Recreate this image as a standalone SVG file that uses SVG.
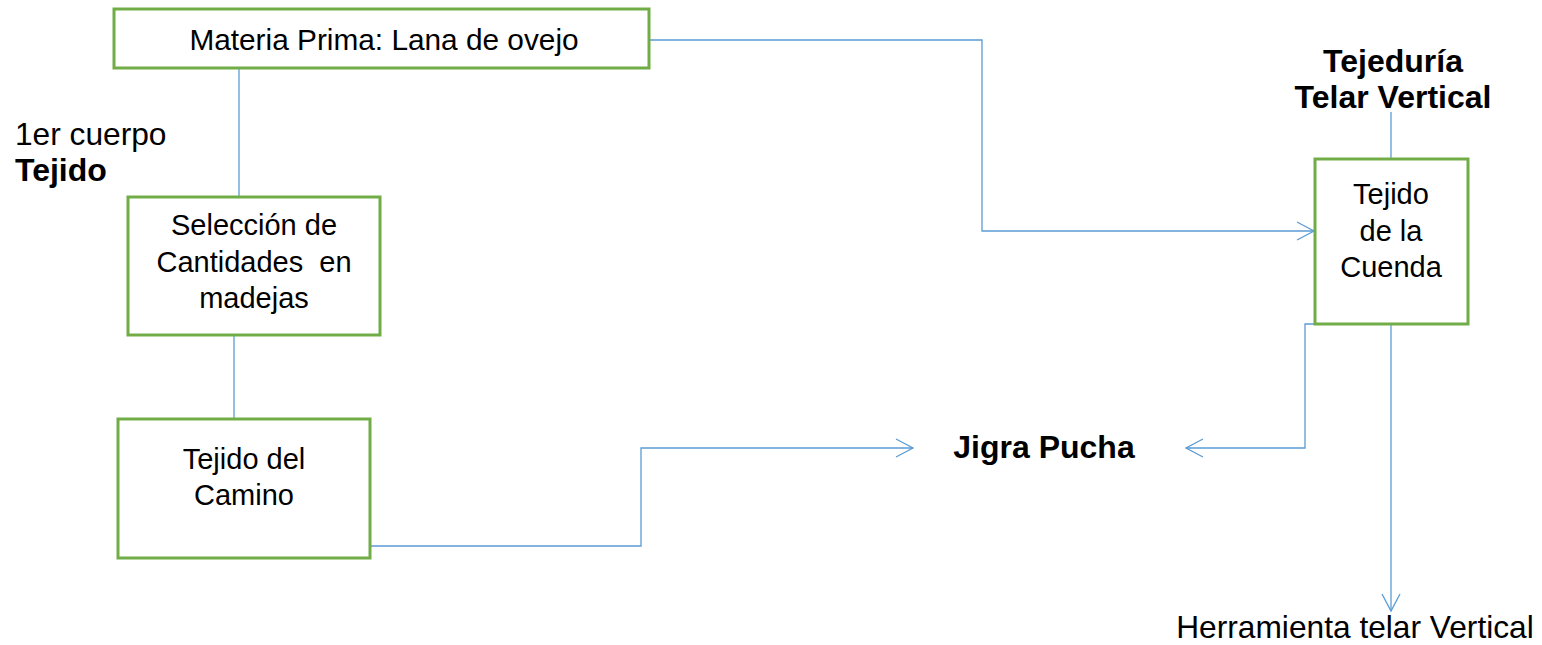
<svg xmlns="http://www.w3.org/2000/svg" width="1542" height="645" viewBox="0 0 1542 645">
<style>
.box{fill:#fff;stroke:#70AD47;stroke-width:3}
.ln{fill:none;stroke:#5B9BD5;stroke-width:1.3}
.t{font-family:"Liberation Sans",Arial,sans-serif;font-size:29px;fill:#000;text-anchor:middle}
.m{font-size:29.8px}
.o{font-size:31.7px}
.b{font-weight:bold;font-size:32px}
.l{text-anchor:start}
</style>
<defs>
<marker id="ar" markerWidth="20" markerHeight="20" refX="18" refY="10" orient="auto" markerUnits="userSpaceOnUse">
<path d="M1,1 L18,10 L1,19" fill="none" stroke="#5B9BD5" stroke-width="1.3"/>
</marker>
</defs>
<g id="connectors">
<line class="ln" x1="239" y1="68" x2="239" y2="196"/>
<line class="ln" x1="234" y1="334" x2="234" y2="419"/>
<polyline class="ln" points="370,546 641,546 641,448 913,448" marker-end="url(#ar)"/>
<polyline class="ln" points="650,40 982,40 982,231 1314,231" marker-end="url(#ar)"/>
<line class="ln" x1="1391" y1="112" x2="1391" y2="159"/>
<polyline class="ln" points="1424,324 1305,324 1305,448 1186,448" marker-end="url(#ar)"/>
<line class="ln" x1="1391" y1="324" x2="1391" y2="611" marker-end="url(#ar)"/>
</g>
<g id="n-materia">
<rect class="box" x="114" y="9" width="535" height="59"/>
<text class="t m" x="384" y="50">Materia Prima: Lana de ovejo</text>
</g>
<g id="n-seleccion">
<rect class="box" x="128" y="197" width="252" height="138"/>
<text class="t" x="254" y="235">Selección de</text>
<text class="t" x="254" y="272" xml:space="preserve">Cantidades  en</text>
<text class="t" x="254" y="308">madejas</text>
</g>
<g id="n-camino">
<rect class="box" x="118" y="419" width="252" height="139"/>
<text class="t" x="244" y="469">Tejido del</text>
<text class="t" x="244" y="505">Camino</text>
</g>
<g id="n-cuenda">
<rect class="box" x="1315" y="159" width="153" height="165"/>
<text class="t" x="1391" y="204">Tejido</text>
<text class="t" x="1391" y="241">de la</text>
<text class="t" x="1391" y="277">Cuenda</text>
</g>
<g id="n-jigra">
<text class="t b" x="1044" y="458">Jigra Pucha</text>
</g>
<g id="n-tejeduria">
<text class="t b" x="1393" y="72">Tejeduría</text>
<text class="t b" x="1393" y="108">Telar Vertical</text>
</g>
<g id="n-cuerpo">
<text class="t o l" x="15" y="145">1er cuerpo</text>
<text class="t b l" x="15" y="181">Tejido</text>
</g>
<g id="n-herramienta">
<text class="t o" x="1355" y="638">Herramienta telar Vertical</text>
</g>
</svg>
